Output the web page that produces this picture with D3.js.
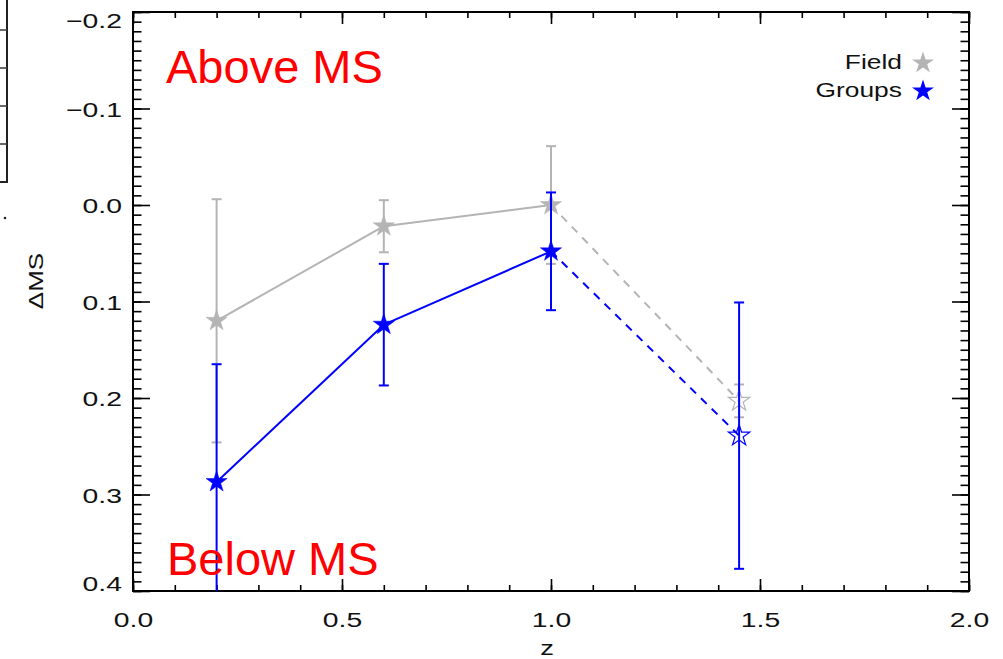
<!DOCTYPE html>
<html>
<head>
<meta charset="utf-8">
<script src="https://cdn.jsdelivr.net/npm/d3@7"></script>
<style>
  body { margin: 0; background: #fff; }
  svg { display: block; }
</style>
</head>
<body>
<svg id="chart" width="1003" height="659"></svg>
<script>
// Offset from the main sequence vs redshift, field and group galaxies
const redshift    = [0.2, 0.6, 1.0, 1.45];
const fieldOffset = [0.120, 0.022, 0.000, 0.203];
const fieldError  = [0.126, 0.027, 0.061, 0.017];
const groupOffset = [0.287, 0.124, 0.048, 0.239];
const groupError  = [0.122, 0.063, 0.061, 0.138];
const openPoint   = [false, false, false, true];   // last bin drawn as open star, dashed link

const seriesNames  = ["Field", "Groups"];
const seriesColors = ["#b4b4b4", "#0000ff"];

const xTicks = [0.0, 0.5, 1.0, 1.5, 2.0];
const yTicks = [-0.2, -0.1, 0.0, 0.1, 0.2, 0.3, 0.4];
const xMinorTicks = d3.range(0, 21).map(i => i / 10);
const yMinorTicks = d3.range(-20, 41).map(i => i / 100);

const svg = d3.select("#chart");
const plot = { left: 133, right: 969, top: 12, bottom: 591 };

const x = d3.scaleLinear().domain([0, 2]).range([plot.left, plot.right]);
const y = d3.scaleLinear().domain([-0.2, 0.4]).range([plot.top, plot.bottom]);

const fontFamily = "'Liberation Sans', Arial, Helvetica, sans-serif";
const fmt = d3.format(".1f");

// ---- edge of the neighbouring panel on the left
const yNeighbour = d3.scaleLinear().domain([0, 5]).range([182, -8]);
const neighbour = svg.append("g");
neighbour.append("line")
  .attr("x1", 7).attr("x2", 7).attr("y1", 0).attr("y2", yNeighbour(0))
  .attr("stroke", "#222").attr("stroke-width", 2);
neighbour.append("line")
  .attr("x1", 0).attr("x2", 8).attr("y1", yNeighbour(0)).attr("y2", yNeighbour(0))
  .attr("stroke", "#222").attr("stroke-width", 2);
neighbour.selectAll("line.nt").data([1, 2, 3, 4]).join("line")
  .attr("class", "nt")
  .attr("x1", 0).attr("x2", 7)
  .attr("y1", d => yNeighbour(d)).attr("y2", d => yNeighbour(d))
  .attr("stroke", "#444").attr("stroke-width", 1.6);
neighbour.append("circle").attr("cx", 5).attr("cy", 218).attr("r", 1.3).attr("fill", "#222");

// ---- axes (ticks drawn inward on all four sides)
function styleAxis(g) {
  g.select(".domain").remove();
  g.selectAll(".tick line").attr("stroke", "#000").attr("stroke-width", 1.6);
}

// bottom
svg.append("g").attr("transform", `translate(0,${plot.bottom})`)
  .call(d3.axisBottom(x).tickValues(xMinorTicks).tickSize(-6).tickFormat(""))
  .call(styleAxis);
const xAxisG = svg.append("g").attr("transform", `translate(0,${plot.bottom})`)
  .call(d3.axisBottom(x).tickValues(xTicks).tickSize(-12).tickFormat(fmt))
  .call(styleAxis);
xAxisG.selectAll(".tick text")
  .attr("y", 0).attr("dy", null)
  .attr("transform", "translate(0,36) scale(1.35,1)")
  .attr("fill", "#111")
  .style("font-family", fontFamily).style("font-size", "21px");

// top
svg.append("g").attr("transform", `translate(0,${plot.top})`)
  .call(d3.axisTop(x).tickValues(xMinorTicks).tickSize(-6).tickFormat(""))
  .call(styleAxis);
svg.append("g").attr("transform", `translate(0,${plot.top})`)
  .call(d3.axisTop(x).tickValues(xTicks).tickSize(-12).tickFormat(""))
  .call(styleAxis);

// left
svg.append("g").attr("transform", `translate(${plot.left},0)`)
  .call(d3.axisLeft(y).tickValues(yMinorTicks).tickSize(-8.5).tickFormat(""))
  .call(styleAxis);
const yAxisG = svg.append("g").attr("transform", `translate(${plot.left},0)`)
  .call(d3.axisLeft(y).tickValues(yTicks).tickSize(-17).tickFormat(fmt))
  .call(styleAxis);
yAxisG.selectAll(".tick text")
  .attr("x", 0).attr("dy", "0.36em")
  .attr("text-anchor", "end")
  .attr("transform", (d, i) => {
    const shift = i === 0 ? 8 : (i === yTicks.length - 1 ? -8 : 0);
    return `translate(-11,${shift}) scale(1.35,1)`;
  })
  .attr("fill", "#111")
  .style("font-family", fontFamily).style("font-size", "21px");

// right
svg.append("g").attr("transform", `translate(${plot.right},0)`)
  .call(d3.axisRight(y).tickValues(yMinorTicks).tickSize(-8.5).tickFormat(""))
  .call(styleAxis);
svg.append("g").attr("transform", `translate(${plot.right},0)`)
  .call(d3.axisRight(y).tickValues(yTicks).tickSize(-17).tickFormat(""))
  .call(styleAxis);

// frame
svg.append("rect")
  .attr("x", plot.left).attr("y", plot.top)
  .attr("width", plot.right - plot.left).attr("height", plot.bottom - plot.top)
  .attr("fill", "none").attr("stroke", "#000").attr("stroke-width", 2);

// axis titles
svg.append("text")
  .attr("transform", `translate(${(plot.left + plot.right) / 2 - 4},655) scale(1.3,1)`)
  .attr("text-anchor", "middle")
  .attr("fill", "#111")
  .style("font-family", fontFamily).style("font-size", "21px")
  .text("z");
svg.append("text")
  .attr("transform", "translate(43,281) rotate(-90) scale(1.3,1)")
  .attr("text-anchor", "middle")
  .attr("fill", "#111")
  .style("font-family", fontFamily).style("font-size", "20px")
  .text("ΔMS");

// ---- data
svg.append("clipPath").attr("id", "plot-clip")
  .append("rect")
  .attr("x", plot.left).attr("y", plot.top)
  .attr("width", plot.right - plot.left).attr("height", plot.bottom - plot.top);

const dataG = svg.append("g").attr("clip-path", "url(#plot-clip)");
const star = d3.symbol().type(d3.symbolStar).size(140);
const line = d3.line().x(d => x(d.z)).y(d => y(d.v));

const series = [
  { values: fieldOffset, errors: fieldError },
  { values: groupOffset, errors: groupError }
];

series.forEach((s, si) => {
  const color = seriesColors[si];
  const pts = redshift.map((z, i) => ({ z, v: s.values[i], e: s.errors[i], open: openPoint[i] }));
  const g = dataG.append("g");

  // connecting segments, dashed towards open points
  for (let i = 0; i < pts.length - 1; i++) {
    const dashed = pts[i].open || pts[i + 1].open;
    g.append("path")
      .attr("d", line([pts[i], pts[i + 1]]))
      .attr("fill", "none")
      .attr("stroke", color)
      .attr("stroke-width", 2)
      .attr("stroke-dasharray", dashed ? "8,7" : null);
  }

  // error bars
  const eb = g.selectAll("g.err").data(pts).join("g").attr("class", "err");
  eb.append("line")
    .attr("x1", d => x(d.z)).attr("x2", d => x(d.z))
    .attr("y1", d => y(d.v - d.e)).attr("y2", d => y(d.v + d.e))
    .attr("stroke", color).attr("stroke-width", 2);
  [-1, 1].forEach(sign => {
    eb.append("line")
      .attr("x1", d => x(d.z) - 5).attr("x2", d => x(d.z) + 5)
      .attr("y1", d => y(d.v + sign * d.e)).attr("y2", d => y(d.v + sign * d.e))
      .attr("stroke", color).attr("stroke-width", 2);
  });

  // markers
  g.selectAll("path.star").data(pts).join("path")
    .attr("class", "star")
    .attr("d", star)
    .attr("transform", d => `translate(${x(d.z)},${y(d.v)})`)
    .attr("fill", d => d.open ? "none" : color)
    .attr("stroke", color)
    .attr("stroke-width", d => d.open ? 1.2 : 0.5);
});

// ---- region labels
svg.append("text")
  .attr("x", 166).attr("y", 83)
  .attr("fill", "#ff0000")
  .style("font-family", fontFamily).style("font-size", "47px")
  .text("Above MS");
svg.append("text")
  .attr("x", 167).attr("y", 575)
  .attr("fill", "#ff0000")
  .style("font-family", fontFamily).style("font-size", "47px")
  .text("Below MS");

// ---- legend
const legend = svg.append("g");
seriesNames.forEach((name, i) => {
  const ly = 63 + i * 28;
  legend.append("text")
    .attr("transform", `translate(902,${ly + 6}) scale(1.32,1)`)
    .attr("text-anchor", "end")
    .attr("fill", "#111")
    .style("font-family", fontFamily).style("font-size", "20px")
    .text(name);
  legend.append("path")
    .attr("d", d3.symbol().type(d3.symbolStar).size(150)())
    .attr("transform", `translate(923,${ly})`)
    .attr("fill", seriesColors[i]);
});
</script>
</body>
</html>
